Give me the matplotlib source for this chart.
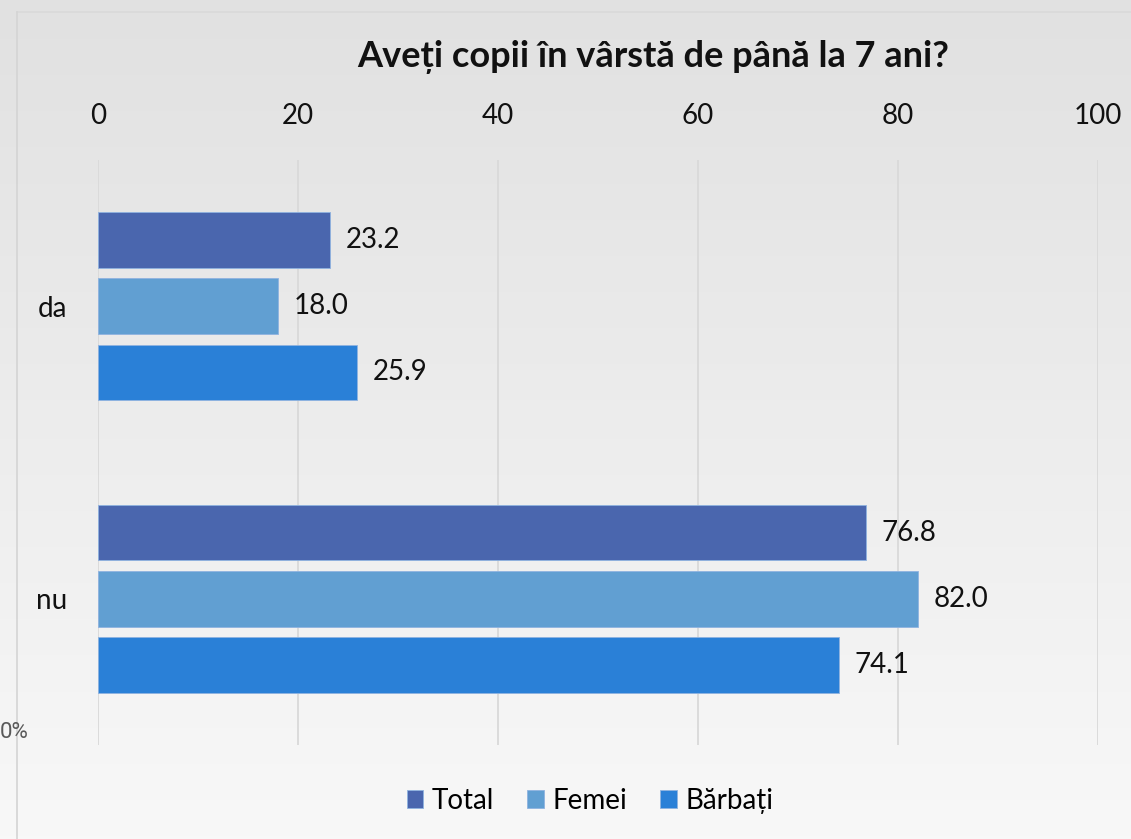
import numpy as np
import matplotlib
matplotlib.use("Agg")
import matplotlib.pyplot as plt
from matplotlib.lines import Line2D

plt.rcParams['font.family'] = ['Lato', 'DejaVu Sans']

categories = ['da', 'nu']
series = ['Total', 'Femei', 'Bărbați']
total = [23.2, 76.8]
femei = [18.0, 82.0]
barbati = [25.9, 74.1]
colors = ['#4a66ae', '#619fd2', '#2a80d7']
ticks = [0, 20, 40, 60, 80, 100]

W, H = 1131, 839
fig = plt.figure(figsize=(W / 100, H / 100), dpi=100)

# background gradient
bg = fig.add_axes([0, 0, 1, 1], zorder=-10)
grad = np.linspace(0, 1, 256).reshape(-1, 1)
bg.imshow(grad, aspect='auto', cmap=matplotlib.colors.LinearSegmentedColormap.from_list(
    'g', ['#e1e1e1', '#f8f8f8']), extent=[0, 1, 0, 1], origin='upper')
bg.set_xlim(0, 1)
bg.set_ylim(0, 1)
bg.axis('off')
# chart border (top and left)
bg.add_line(Line2D([17 / W, 1], [1 - 12 / H, 1 - 12 / H], color='#d9d9d9', lw=1.2))
bg.add_line(Line2D([17 / W, 17 / W], [0, 1 - 12 / H], color='#d4d4d4', lw=1.2))
bg.text(0, 1 - 733 / H, '0%', fontsize=16, color='#595959', va='center',
        ha='left', family=['Roboto', 'DejaVu Sans'])

ax = fig.add_axes([98 / W, 1 - 745 / H, 1000 / W, 585 / H])
ax.patch.set_alpha(0)
y = np.arange(len(categories))
h = 0.19
step = 0.226
for i, (name, vals) in enumerate(zip(series, [total, femei, barbati])):
    pos = y + (i - 1) * step
    bars = ax.barh(pos, vals, height=h, color=colors[i], label=name,
                   edgecolor='#8fb3e0', linewidth=0.6, zorder=3)
    for b, v in zip(bars, vals):
        ax.text(v + 1.6, b.get_y() + b.get_height() / 2, f'{v:.1f}',
                va='center', ha='left', fontsize=20, color='#111111')

ax.set_xlim(0, 100)
ax.set_ylim(1.5, -0.5)
ax.set_xticks(ticks)
ax.xaxis.tick_top()
ax.tick_params(axis='x', length=0, labelsize=20, pad=22, labelcolor='#111111')
ax.set_yticks(y)
ax.set_yticklabels(categories)
ax.tick_params(axis='y', length=0, labelsize=20, pad=22, labelcolor='#111111')
ax.grid(axis='x', color='#d9d9d9', lw=1.3, zorder=0)
for s in ax.spines.values():
    s.set_visible(False)

fig.text(653 / W, 1 - 57 / H, 'Aveți copii în vârstă de până la 7 ani?',
         ha='center', va='center', fontsize=26, fontweight='bold', color='#111111')

fig.legend(loc='center', bbox_to_anchor=(590 / W, 1 - 801 / H), ncol=3, frameon=False,
           fontsize=20, handlelength=0.6, handleheight=0.6, handletextpad=0.3,
           columnspacing=1.2)

fig.savefig('out.png', dpi=100)
